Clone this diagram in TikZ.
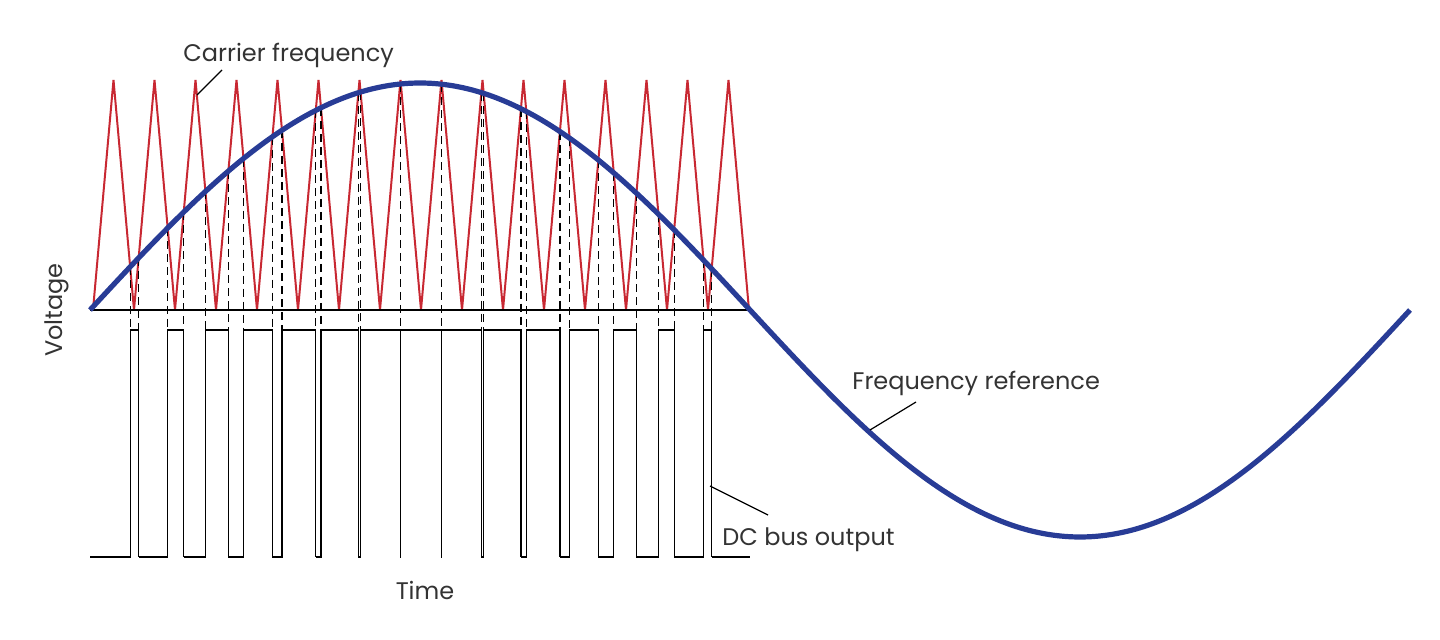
\documentclass[tikz,border=0pt]{standalone}
\usepackage{fontspec}
\setmainfont{Poppins}
\begin{document}
\begin{tikzpicture}[x=0.5pt,y=-0.5pt,
  carrier/.style={draw={rgb,255:red,200;green,40;blue,50},line width=1pt,line join=miter},
  refwave/.style={draw={rgb,255:red,40;green,60;blue,150},line width=2.6pt},
  blk/.style={draw=black,line width=0.6pt},
  dsh/.style={draw=black,line width=0.6pt,dash pattern=on 4pt off 2.5pt},
  lbl/.style={font=\fontsize{12}{14}\selectfont\color{black!80},inner sep=0pt}]
\useasboundingbox (0,0) rectangle (1440,640);
% carrier
\draw[carrier] (93,310) \foreach \k in {0,...,15}{ -- ({113.5+41*\k},80) -- ({134+41*\k},310)};
% axis
\draw[blk] (90,310) -- (750,310);
% pulses and dashed lines
\xdef\prevr{90}
\foreach \k in {1,...,15}{
  \pgfmathsetmacro\v{93+41*\k}
  \pgfmathsetmacro\f{\v}
  \pgfmathsetmacro\f{\v-20.5*227*sin((\f-90)/1320*360)/230}
  \pgfmathsetmacro\f{\v-20.5*227*sin((\f-90)/1320*360)/230}
  \pgfmathsetmacro\f{\v-20.5*227*sin((\f-90)/1320*360)/230}
  \pgfmathsetmacro\f{\v-20.5*227*sin((\f-90)/1320*360)/230}
  \pgfmathsetmacro\f{\v-20.5*227*sin((\f-90)/1320*360)/230}
  \pgfmathsetmacro\r{\v}
  \pgfmathsetmacro\r{\v+20.5*227*sin((\r-90)/1320*360)/230}
  \pgfmathsetmacro\r{\v+20.5*227*sin((\r-90)/1320*360)/230}
  \pgfmathsetmacro\r{\v+20.5*227*sin((\r-90)/1320*360)/230}
  \pgfmathsetmacro\r{\v+20.5*227*sin((\r-90)/1320*360)/230}
  \pgfmathsetmacro\r{\v+20.5*227*sin((\r-90)/1320*360)/230}
  \pgfmathsetmacro\yf{310-227*sin((\f-90)/1320*360)}
  \pgfmathsetmacro\yr{310-227*sin((\r-90)/1320*360)}
  \draw[dsh] (\f,\yf) -- (\f,330);
  \draw[dsh] (\r,\yr) -- (\r,330);
  \draw[blk] (\prevr,557) -- (\f,557) -- (\f,330) -- (\r,330) -- (\r,557);
  \xdef\prevr{\r}
}
\draw[blk] (\prevr,557) -- (750,557);
% reference sine
\draw[refwave] plot[domain=90:1410,samples=150,smooth] (\x,{310-227*sin((\x-90)/1320*360)});
% labels
\node[lbl,anchor=base west] (cf) at (183,62) {Carrier frequency};
\node[lbl,anchor=base west] (fr) at (852,390) {Frequency reference};
\node[lbl,anchor=base west] (dc) at (722,546) {DC bus output};
\node[lbl,anchor=base] (tm) at (425,600) {Time};
\node[lbl,anchor=base,rotate=90] (vo) at (62,310) {Voltage};
\coordinate (cfa) at (222,70); \coordinate (cfb) at (197,95);
\coordinate (fra) at (916,402); \coordinate (frb) at (870,430);
\coordinate (dca) at (768,515); \coordinate (dcb) at (710,486);
\draw[blk] (cfa) -- (cfb);
\draw[blk] (fra) -- (frb);
\draw[blk] (dca) -- (dcb);
\end{tikzpicture}
\end{document}
